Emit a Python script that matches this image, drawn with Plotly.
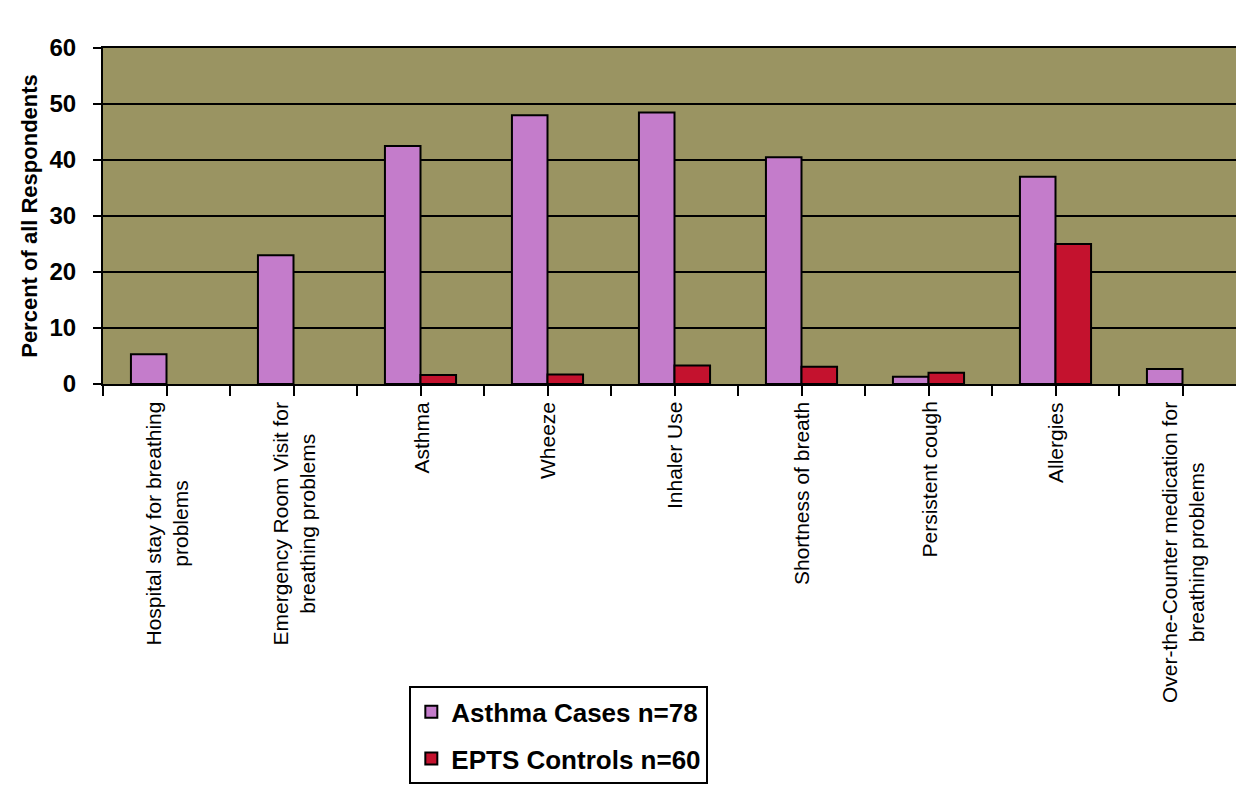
import plotly.graph_objects as go

# values (percent of all respondents); None = no bar drawn
categories = [
    "Hospital stay for breathing<br>problems",
    "Emergency Room Visit for<br>breathing problems",
    "Asthma",
    "Wheeze",
    "Inhaler Use",
    "Shortness of breath",
    "Persistent cough",
    "Allergies",
    "Over-the-Counter medication for<br>breathing problems",
]
asthma_cases = [5.3, 23, 42.5, 48, 48.5, 40.5, 1.3, 37, 2.7]
epts_controls = [None, None, 1.6, 1.7, 3.3, 3.1, 2.0, 25, None]
y_ticks = [0, 10, 20, 30, 40, 50, 60]

xpos = list(range(len(categories)))
tick_positions = sorted(set([p - 0.5 for p in xpos] + xpos + [xpos[-1] + 0.5]))

fig = go.Figure()
fig.add_trace(go.Bar(
    x=xpos, y=asthma_cases, name="Asthma Cases n=78",
    marker=dict(color="#c47ccb", line=dict(color="black", width=2)),
    legendgroup="a",
))
fig.add_trace(go.Bar(
    x=xpos, y=epts_controls, name="EPTS Controls n=60",
    marker=dict(color="#c4122e", line=dict(color="black", width=2)),
    legendgroup="b",
))

# rotated category labels, centred lines like the original
for p, label in zip(xpos, categories):
    fig.add_annotation(
        x=p, y=0, xref="x", yref="paper",
        text=label, textangle=-90, showarrow=False,
        xanchor="center", yanchor="top", yshift=-16, align="center",
        font=dict(family="Liberation Sans, Arial", size=21, color="black"),
    )

fig.update_layout(
    width=1244,
    height=786,
    margin=dict(l=95, r=4, t=40, b=410),
    paper_bgcolor="white",
    plot_bgcolor="#9a9462",
    barmode="group",
    bargap=0.44,
    bargroupgap=0,
    font=dict(family="Liberation Sans, Arial", color="black"),
    xaxis=dict(
        range=[-0.5, len(categories) - 0.5],
        tickvals=tick_positions,
        ticktext=["" for _ in tick_positions],
        ticks="outside", ticklen=10, tickwidth=2, tickcolor="black",
        showgrid=False, zeroline=False,
        showline=True, linecolor="black", linewidth=2, mirror=True,
    ),
    yaxis=dict(
        range=[0, 60],
        tickvals=y_ticks,
        ticks="outside", ticklen=8, tickwidth=2, tickcolor="black",
        ticklabelstandoff=12,
        tickfont=dict(size=24, family="Liberation Sans, Arial", weight="bold"),
        showgrid=True, gridcolor="black", gridwidth=2,
        zeroline=False,
        showline=True, linecolor="black", linewidth=2, mirror=True,
        title=dict(text="<b>Percent of all Respondents</b>",
                   font=dict(size=22), standoff=6),
    ),
    legend=dict(
        x=0.268, y=-0.90, xanchor="left", yanchor="top",
        bgcolor="white", bordercolor="black", borderwidth=2,
        font=dict(size=26, family="Liberation Sans, Arial", weight="bold"),
        tracegroupgap=10,
        itemwidth=30,
        entrywidth=300,
    ),
    showlegend=True,
)

fig.write_html("out.html")
